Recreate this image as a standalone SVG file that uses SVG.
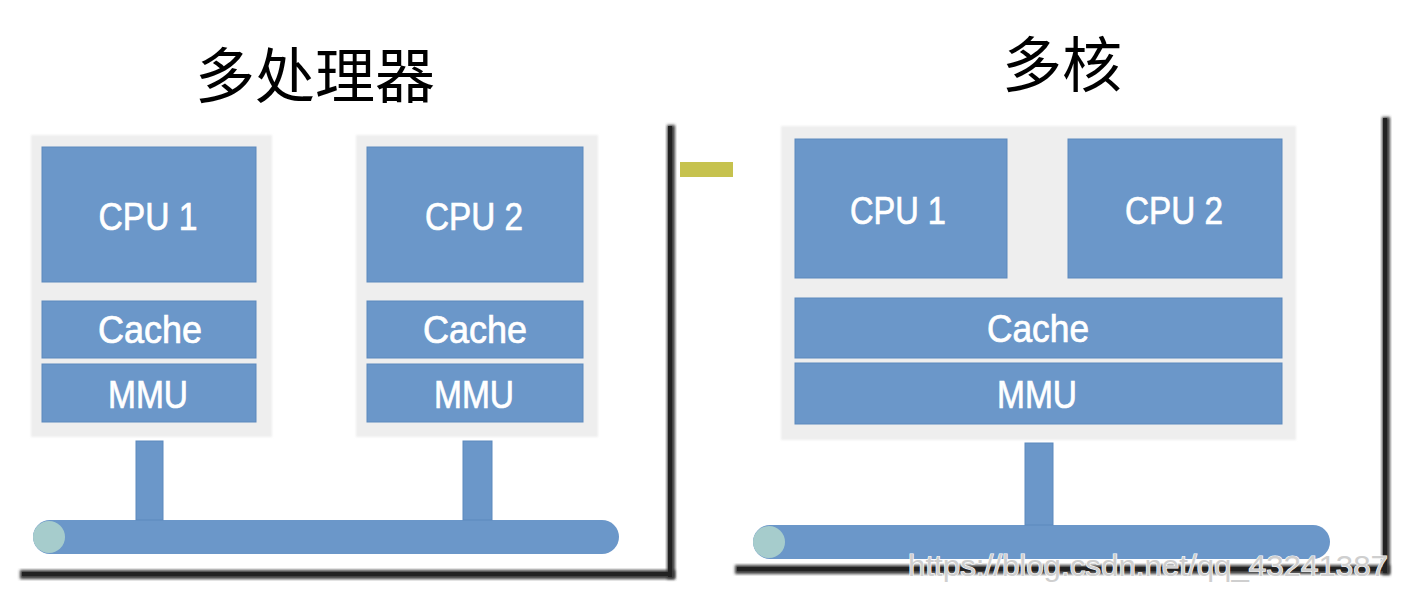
<svg xmlns="http://www.w3.org/2000/svg" width="1414" height="600" viewBox="0 0 1414 600">
  <defs>
    <filter id="blur" x="-20%" y="-20%" width="140%" height="140%">
      <feGaussianBlur stdDeviation="1.6"/>
    </filter>
    <filter id="soft" x="-5%" y="-5%" width="110%" height="110%">
      <feGaussianBlur stdDeviation="1"/>
    </filter>
  </defs>
  <style>
    .pkg { fill: #eeeeee; filter: url(#soft); }
    .blk { fill: #6b97c9; stroke: #5d89bd; stroke-width: 1; }
    .lbl { fill: #ffffff; stroke: #ffffff; stroke-width: 0.7; font-family: "Liberation Sans", Arial, sans-serif; font-size: 38px; text-anchor: middle; }
    .ttl { fill: #000000; font-family: "Noto Sans CJK SC", sans-serif; font-size: 60px; text-anchor: middle; }
    .bus { fill: #6b97c9; }
    .end { fill: #a6cccc; }
    .stem { fill: #6b97c9; stroke: #5d89bd; stroke-width: 1; }
    .edge { fill: #3a3a3a; filter: url(#blur); }
    .edge2 { fill: #222222; }
    .wm { fill: #cfcfcf; stroke: #ffffff; stroke-width: 1.2; paint-order: stroke; font-family: "Liberation Sans", Arial, sans-serif; font-size: 29px; }
  </style>
  <rect width="1414" height="600" fill="#ffffff"/>

  <!-- titles -->
  <g id="title-left"><text class="ttl" x="315" y="98">多处理器</text></g>
  <g id="title-right"><text class="ttl" x="1062" y="87">多核</text></g>

  <!-- olive bar -->
  <rect id="bar" x="680" y="162" width="53" height="15" fill="#c6c24e"/>

  <!-- left frame shadow -->
  <g id="frame-left">
    <rect class="edge" x="667" y="125" width="8" height="454"/>
    <rect class="edge" x="20" y="570" width="655" height="9"/>
    <rect class="edge2" x="668" y="126" width="4" height="451"/>
    <rect class="edge2" x="22" y="572" width="650" height="4"/>
  </g>

  <!-- right frame shadow -->
  <g id="frame-right">
    <rect class="edge" x="1382" y="117" width="8" height="458"/>
    <rect class="edge" x="735" y="565" width="655" height="9"/>
    <rect class="edge2" x="1383" y="118" width="4" height="455"/>
    <rect class="edge2" x="737" y="567" width="650" height="4"/>
  </g>

  <!-- left processor 1 -->
  <g id="proc1">
    <rect class="pkg" x="31" y="135" width="241" height="302"/>
    <rect class="blk" x="42" y="147" width="214" height="135"/>
    <text class="lbl" x="148" y="230" textLength="99" lengthAdjust="spacingAndGlyphs">CPU 1</text>
    <rect class="blk" x="42" y="301" width="214" height="57"/>
    <text class="lbl" x="150" y="343" textLength="104" lengthAdjust="spacingAndGlyphs">Cache</text>
    <rect class="blk" x="42" y="364" width="214" height="58"/>
    <text class="lbl" x="148" y="408" textLength="80" lengthAdjust="spacingAndGlyphs">MMU</text>
  </g>

  <!-- left processor 2 -->
  <g id="proc2">
    <rect class="pkg" x="356" y="135" width="242" height="302"/>
    <rect class="blk" x="367" y="147" width="216" height="135"/>
    <text class="lbl" x="474" y="230" textLength="98" lengthAdjust="spacingAndGlyphs">CPU 2</text>
    <rect class="blk" x="367" y="301" width="216" height="57"/>
    <text class="lbl" x="475" y="343" textLength="104" lengthAdjust="spacingAndGlyphs">Cache</text>
    <rect class="blk" x="367" y="364" width="216" height="58"/>
    <text class="lbl" x="474" y="408" textLength="80" lengthAdjust="spacingAndGlyphs">MMU</text>
  </g>

  <!-- right multicore -->
  <g id="multicore">
    <rect class="pkg" x="781" y="126" width="515" height="314"/>
    <rect class="blk" x="795" y="139" width="212" height="139"/>
    <text class="lbl" x="898" y="224" textLength="96" lengthAdjust="spacingAndGlyphs">CPU 1</text>
    <rect class="blk" x="1068" y="139" width="214" height="139"/>
    <text class="lbl" x="1174" y="224" textLength="98" lengthAdjust="spacingAndGlyphs">CPU 2</text>
    <rect class="blk" x="795" y="298" width="487" height="60"/>
    <text class="lbl" x="1038" y="342" textLength="102" lengthAdjust="spacingAndGlyphs">Cache</text>
    <rect class="blk" x="795" y="363" width="487" height="61"/>
    <text class="lbl" x="1037" y="408" textLength="80" lengthAdjust="spacingAndGlyphs">MMU</text>
  </g>

  <!-- buses -->
  <g id="bus-left">
    <rect class="bus" x="33" y="520" width="586" height="34" rx="17" ry="17"/>
    <circle class="end" cx="49" cy="537" r="16"/>
  </g>
  <g id="bus-right">
    <rect class="bus" x="753" y="525" width="577" height="34" rx="17" ry="17"/>
    <circle class="end" cx="769" cy="542" r="16"/>
  </g>

  <!-- connectors -->
  <g id="connectors">
    <rect class="stem" x="136" y="441" width="27" height="79"/>
    <rect class="stem" x="463" y="441" width="29" height="79"/>
    <rect class="stem" x="1025" y="443" width="28" height="82"/>
  </g>

  <!-- watermark -->
  <text class="wm" x="908" y="576" textLength="480" lengthAdjust="spacingAndGlyphs">https://blog.csdn.net/qq_43241387</text>
</svg>
